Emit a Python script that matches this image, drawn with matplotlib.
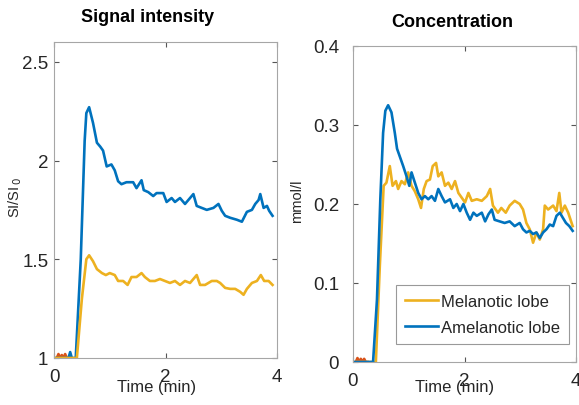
import matplotlib
matplotlib.use("Agg")
import matplotlib.pyplot as plt

plt.rcParams['font.family'] = ['Liberation Sans', 'DejaVu Sans']

BLUE = '#0072BD'
ORANGE = '#D95319'
YELLOW = '#EDB120'
SPINE = '#a6a6a6'
TEXT = '#262626'

# Pre-contrast baseline samples (both panels)
base_t = [0.05, 0.08, 0.11, 0.14, 0.17, 0.20, 0.23, 0.26]
si_base = [1.0, 1.02, 1.0, 1.015, 1.0, 1.02, 1.0, 1.0]
conc_base = [0.0, 0.005, 0.0, 0.004, 0.0, 0.004, 0.0, 0.0]

# Signal intensity, amelanotic lobe
si_amel_t = [0.0, 0.26, 0.29, 0.32, 0.39, 0.48, 0.55, 0.58, 0.63, 0.70, 0.77,
             0.83, 0.88, 0.945, 1.03, 1.09, 1.15, 1.21, 1.30, 1.42, 1.48, 1.57,
             1.61, 1.69, 1.78, 1.84, 1.96, 2.02, 2.11, 2.17, 2.26, 2.35, 2.44,
             2.50, 2.56, 2.65, 2.74, 2.86, 2.95, 3.01, 3.07, 3.16, 3.28, 3.37,
             3.46, 3.55, 3.61, 3.67, 3.70, 3.76, 3.82, 3.86, 3.92]
si_amel = [1.0, 1.0, 1.03, 1.0, 1.0, 1.5, 2.10, 2.24, 2.27, 2.19, 2.09,
           2.07, 2.05, 1.97, 1.98, 1.95, 1.895, 1.88, 1.89, 1.89, 1.86, 1.90,
           1.85, 1.84, 1.82, 1.835, 1.835, 1.79, 1.81, 1.79, 1.81, 1.78, 1.81,
           1.83, 1.77, 1.76, 1.75, 1.76, 1.78, 1.745, 1.72, 1.71, 1.70, 1.69,
           1.74, 1.75, 1.78, 1.80, 1.83, 1.76, 1.77, 1.745, 1.72]

# Signal intensity, melanotic lobe
si_mel_t = [0.0, 0.41, 0.50, 0.58, 0.63, 0.70, 0.77, 0.86, 0.93, 1.00, 1.09,
            1.15, 1.24, 1.32, 1.39, 1.48, 1.57, 1.63, 1.72, 1.81, 1.90, 1.99,
            2.08, 2.17, 2.26, 2.35, 2.44, 2.56, 2.62, 2.71, 2.83, 2.92, 2.98,
            3.07, 3.16, 3.25, 3.34, 3.40, 3.46, 3.55, 3.64, 3.71, 3.77, 3.85,
            3.92]
si_mel = [1.0, 1.0, 1.30, 1.50, 1.52, 1.49, 1.45, 1.43, 1.42, 1.43, 1.42,
          1.39, 1.39, 1.37, 1.41, 1.41, 1.43, 1.41, 1.39, 1.39, 1.40, 1.39,
          1.38, 1.39, 1.37, 1.39, 1.38, 1.42, 1.37, 1.37, 1.39, 1.39, 1.38,
          1.355, 1.35, 1.35, 1.335, 1.32, 1.35, 1.38, 1.39, 1.42, 1.39, 1.39,
          1.37]

# Concentration, amelanotic lobe
c_amel_t = [0.0, 0.36, 0.43, 0.49, 0.54, 0.58, 0.63, 0.69, 0.75, 0.79, 0.84,
            0.90, 0.96, 1.01, 1.05, 1.11, 1.17, 1.23, 1.29, 1.35, 1.41, 1.47,
            1.53, 1.59, 1.65, 1.74, 1.80, 1.86, 1.92, 1.98, 2.04, 2.10, 2.16,
            2.22, 2.31, 2.37, 2.43, 2.49, 2.54, 2.63, 2.72, 2.81, 2.90, 2.99,
            3.05, 3.11, 3.17, 3.23, 3.29, 3.35, 3.41, 3.47, 3.53, 3.59, 3.65,
            3.71, 3.76, 3.82, 3.88, 3.94]
c_amel = [0.0, 0.0, 0.079, 0.206, 0.29, 0.318, 0.325, 0.316, 0.29, 0.27, 0.26,
          0.248, 0.235, 0.223, 0.24, 0.227, 0.214, 0.206, 0.21, 0.206, 0.21, 0.204,
          0.219, 0.21, 0.202, 0.206, 0.195, 0.20, 0.191, 0.20, 0.189, 0.18, 0.189,
          0.185, 0.189, 0.178, 0.187, 0.193, 0.18, 0.178, 0.176, 0.178, 0.172, 0.176,
          0.168, 0.164, 0.166, 0.162, 0.164, 0.157, 0.164, 0.168, 0.174, 0.172, 0.185,
          0.189, 0.183, 0.176, 0.172, 0.166]

# Concentration, melanotic lobe
c_mel_t = [0.0, 0.41, 0.48, 0.55, 0.60, 0.66, 0.71, 0.77, 0.81, 0.87, 0.93,
           0.99, 1.05, 1.11, 1.17, 1.22, 1.27, 1.32, 1.38, 1.43, 1.49, 1.53,
           1.59, 1.65, 1.71, 1.77, 1.83, 1.89, 1.95, 2.01, 2.07, 2.13, 2.22,
           2.31, 2.40, 2.46, 2.51, 2.60, 2.66, 2.74, 2.81, 2.90, 2.99, 3.05,
           3.11, 3.17, 3.23, 3.29, 3.35, 3.41, 3.44, 3.50, 3.59, 3.65, 3.70,
           3.74, 3.80, 3.86, 3.94]
c_mel = [0.0, 0.0, 0.12, 0.223, 0.227, 0.248, 0.223, 0.229, 0.219, 0.229, 0.225,
         0.24, 0.223, 0.216, 0.206, 0.195, 0.219, 0.229, 0.231, 0.248, 0.252, 0.235,
         0.24, 0.223, 0.227, 0.219, 0.229, 0.214, 0.208, 0.202, 0.214, 0.204, 0.206,
         0.204, 0.21, 0.219, 0.198, 0.189, 0.195, 0.189, 0.198, 0.204, 0.20, 0.193,
         0.176, 0.168, 0.151, 0.164, 0.155, 0.168, 0.198, 0.193, 0.198, 0.191, 0.214,
         0.189, 0.198, 0.189, 0.172]

x_ticks = [0, 2, 4]
si_ticks = [1, 1.5, 2, 2.5]
si_ticklabels = ['1', '1.5', '2', '2.5']
c_ticks = [0, 0.1, 0.2, 0.3, 0.4]
c_ticklabels = ['0', '0.1', '0.2', '0.3', '0.4']

fig = plt.figure(figsize=(5.79, 4.06), dpi=100)
ax1 = fig.add_axes([54 / 579, 1 - 359 / 406, 223 / 579, 316 / 406])
ax2 = fig.add_axes([353 / 579, 1 - 363 / 406, 223 / 579, 316 / 406])


def style(ax, ypad):
    for s in ax.spines.values():
        s.set_color(SPINE)
        s.set_linewidth(0.8)
    ax.tick_params(direction='in', length=3.5, width=0.8, color='#555555',
                   top=True, right=True, labelsize=13.5, labelcolor=TEXT)
    ax.tick_params(axis='x', pad=7)
    ax.tick_params(axis='y', pad=ypad)


lw = 1.9
ax1.plot(base_t, si_base, color=ORANGE, lw=lw)
ax1.plot(si_amel_t, si_amel, color=BLUE, lw=lw)
ax1.plot(si_mel_t, si_mel, color=YELLOW, lw=lw)
ax1.set_xlim(0, 4)
ax1.set_ylim(1, 2.6)
ax1.set_xticks(x_ticks)
ax1.set_yticks(si_ticks)
ax1.set_yticklabels(si_ticklabels)
style(ax1, 4)

ax2.plot(base_t, conc_base, color=ORANGE, lw=lw)
l_mel, = ax2.plot(c_mel_t, c_mel, color=YELLOW, lw=lw, label='Melanotic lobe')
l_amel, = ax2.plot(c_amel_t, c_amel, color=BLUE, lw=lw, label='Amelanotic lobe')
ax2.set_xlim(0, 4)
ax2.set_ylim(0, 0.4)
ax2.set_xticks(x_ticks)
ax2.set_yticks(c_ticks)
ax2.set_yticklabels(c_ticklabels)
style(ax2, 10)

leg = ax2.legend(handles=[l_mel, l_amel], loc='lower right',
                 bbox_to_anchor=(0.969, 0.057), fontsize=12, frameon=True,
                 fancybox=False, handlelength=2.0, handletextpad=0.15,
                 borderpad=0.55, labelspacing=0.65, borderaxespad=0)
leg.get_frame().set_edgecolor('#808080')
leg.get_frame().set_linewidth(0.8)
for t in leg.get_texts():
    t.set_color(TEXT)

fig.text(0.254, 0.956, 'Signal intensity', ha='center', va='center',
         fontsize=13, fontweight='bold', color='black')
fig.text(0.781, 0.944, 'Concentration', ha='center', va='center',
         fontsize=13, fontweight='bold', color='black')

fig.text(0.271, 0.045, 'Time (min)', ha='center', va='center',
         fontsize=12, color=TEXT)
fig.text(0.785, 0.045, 'Time (min)', ha='center', va='center',
         fontsize=12, color=TEXT)

fig.text(15 / 579, 1 - 197 / 406, 'SI/SI$_{\\,0}$', rotation=90, ha='center',
         va='center', fontsize=10.5, color=TEXT)
fig.text(297 / 579, 1 - 201 / 406, 'mmol/l', rotation=90, ha='center',
         va='center', fontsize=10.5, color=TEXT)

fig.savefig('out.png', dpi=100)
